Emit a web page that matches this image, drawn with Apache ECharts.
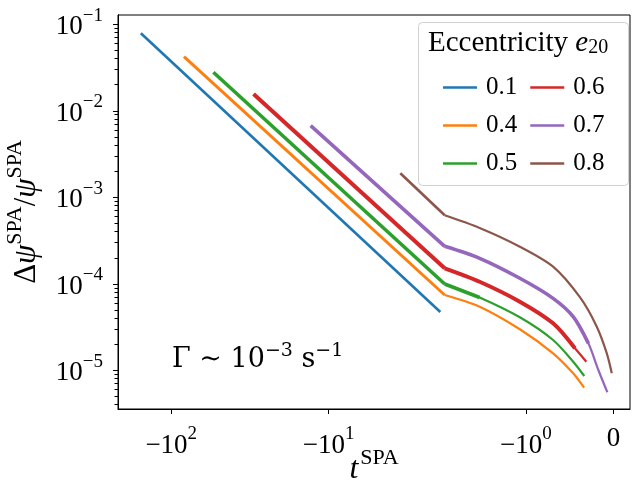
<!DOCTYPE html>
<html>
<head>
<meta charset="utf-8">
<script src="https://cdn.jsdelivr.net/npm/echarts@6/dist/echarts.min.js"></script>
<style>
html, body { margin: 0; padding: 0; background: #fff; }
#main { width: 633px; height: 490px; }
</style>
</head>
<body>
<div id="main"></div>
<script>
// symlog like matplotlib (linthresh 2, linscale 1)
var LT = 2, LS = 1 / (1 - 1 / 10);
function symlog(t) {
	var a = Math.abs(t), s = t < 0 ? -1 : 1;
	return a <= LT ? t * LS : s * LT * (LS + Math.log10(a / LT));
}

var ecc = ['0.1', '0.4', '0.5', '0.6', '0.7', '0.8'];
var colors = ['#1f77b4', '#ff7f0e', '#2ca02c', '#d62728', '#9467bd', '#8c564b'];

// t^SPA values and delta psi / psi per eccentricity
var t01 = [-156, -1.98];
var v01 = [0.0787, 4.72e-5];
var t04 = [-83, -1.93, -1.53, -1.07, -0.69, -0.46, -0.335];
var v04 = [0.0422, 7.42e-5, 5.43e-5, 2.98e-5, 1.57e-5, 9.23e-6, 6.29e-6];
var t05 = [-54, -1.93, -1.53, -1.07, -0.69, -0.46, -0.333];
var v05 = [0.0279, 9.95e-5, 6.95e-5, 4.10e-5, 2.24e-5, 1.257e-5, 8.59e-6];
var t06 = [-30, -1.93, -1.53, -1.07, -0.69, -0.44, -0.31];
var v06 = [0.01564, 1.51e-4, 1.057e-4, 6.21e-5, 3.49e-5, 1.795e-5, 1.257e-5];
var t07 = [-13, -1.93, -1.53, -1.07, -0.69, -0.46, -0.286, -0.172, -0.069];
var v07 = [6.73e-3, 2.71e-4, 1.97e-4, 1.158e-4, 6.79e-5, 4.17e-5, 2.05e-5, 1.008e-5, 5.57e-6];
var t08 = [-3.5, -1.93, -1.53, -1.07, -0.69, -0.381, -0.19, -0.0755, -0.0183];
var v08 = [1.895e-3, 6.19e-4, 4.42e-4, 2.685e-4, 1.578e-4, 6.95e-5, 3.19e-5, 1.57e-5, 9.23e-6];

var tAll = [t01, t04, t05, t06, t07, t08];
var vAll = [v01, v04, v05, v06, v07, v08];

// axes
var xLim = [-218, 0.19];
var yLim = [3.57e-6, 0.128];
var xTicks = [-100, -10, -1, 0];
var xTickLabels = ['{m|−10}{s|2}', '{m|−10}{s|1}', '{m|−10}{s|0}', '{z|0}'];
var yTicks = [1e-5, 1e-4, 1e-3, 1e-2, 1e-1];
var yTickExp = ['−5', '−4', '−3', '−2', '−1'];

// overlapping runs make part of some curves look thicker
var headW = [2.6, 3, 3.6, 4, 3.6, 2.6];
var thickN = [0, 0, 3, 6, 7, 0];
var thickW = [0, 0, 3.6, 4, 3.6, 0];

// minor log ticks (as exponents)
var yMinorExp = [];
for (var e = -6; e <= -1; e++) {
	for (var k = 2; k <= 9; k++) {
		var mv = k * Math.pow(10, e);
		if (mv > yLim[0] && mv < yLim[1]) yMinorExp.push(Math.log10(mv));
	}
}

var xTickPos = xTicks.map(symlog);

var serif = 'Liberation Serif';
var tickRich = {
	b: { fontFamily: serif, fontSize: 27, color: '#000', padding: [6, 0, 0, 0] },
	m: { fontFamily: serif, fontSize: 27, color: '#000', padding: [6, 0, 0, 0] },
	z: { fontFamily: serif, fontSize: 27, color: '#000' },
	s: { fontFamily: serif, fontSize: 19, color: '#000', padding: [0, 0, 17, 0] }
};

var series = [];
for (var i = 0; i < ecc.length; i++) {
	var pts = tAll[i].map(function (t, j) { return [symlog(t), vAll[i][j]]; });
	// straight power-law part
	series.push({
		name: ecc[i], type: 'line', data: pts.slice(0, 2), symbol: 'none', showSymbol: false,
		lineStyle: { width: headW[i], color: colors[i] }, itemStyle: { color: colors[i] }, z: 2 + i
	});
	if (pts.length > 2) {
		series.push({
			name: ecc[i], type: 'line', data: pts.slice(1), symbol: 'none', showSymbol: false,
			smooth: 0.3,
			lineStyle: { width: 2.2, color: colors[i] }, itemStyle: { color: colors[i] }, z: 2 + i
		});
	}
	if (thickN[i] > 0) {
		series.push({
			name: ecc[i], type: 'line', data: pts.slice(1, thickN[i]), symbol: 'none', showSymbol: false,
			smooth: 0.3,
			lineStyle: { width: thickW[i], color: colors[i] }, itemStyle: { color: colors[i] }, z: 2 + i
		});
	}
}

var myChart = echarts.init(document.getElementById('main'));
var option = {
	animation: false,
	backgroundColor: '#fff',
	grid: { left: 118, right: 3, top: 15, bottom: 81, outerBoundsMode: 'none', containLabel: false, show: true, borderColor: '#000', borderWidth: 1, backgroundColor: 'transparent' },
	title: [{
		text: '{a|Eccentricity }{e|e}{u|20}',
		left: 428, top: 29, padding: 0,
		textStyle: {
			fontWeight: 'normal',
			rich: {
				a: { fontFamily: serif, fontSize: 29, fontWeight: 'normal', color: '#000' },
				e: { fontFamily: serif, fontSize: 29, fontStyle: 'italic', fontWeight: 'normal', color: '#000' },
				u: { fontFamily: serif, fontSize: 20, fontWeight: 'normal', color: '#000', padding: [9, 0, 0, 0] }
			}
		}
	}, {
		text: '{n|Γ ∼ 10}{s|−3}{n| s}{s|−1}',
		left: 172, top: 342, padding: 0,
		textStyle: {
			fontWeight: 'normal',
			rich: {
				n: { fontFamily: 'DejaVu Serif', fontSize: 27, fontWeight: 'normal', color: '#000' },
				s: { fontFamily: 'DejaVu Serif', fontSize: 19, fontWeight: 'normal', color: '#000', padding: [0, 0, 16, 0] }
			}
		}
	}],
	legend: {
		data: ['0.1', '0.6', '0.4', '0.7', '0.5', '0.8'],
		orient: 'horizontal', left: 438, top: 70, width: 190,
		icon: 'rect', itemWidth: 34, itemHeight: 2.5, itemGap: 13,
		textStyle: { fontFamily: serif, fontSize: 25, color: '#000', padding: [0, 5, 0, 4] },
		selectedMode: false
	},
	graphic: [{
		type: 'rect', left: 418, top: 22, z: 0,
		shape: { width: 210, height: 163, r: 4 },
		style: { fill: 'rgba(255,255,255,0.8)', stroke: '#d0d0d0', lineWidth: 1 }
	}],
	xAxis: {
		type: 'value', min: symlog(xLim[0]), max: symlog(xLim[1]),
		name: '{i|t}{s|SPA}', nameLocation: 'middle', nameGap: 38, nameMoveOverlap: false,
		nameTextStyle: {
			verticalAlign: 'top',
			rich: {
				i: { fontFamily: serif, fontSize: 32, fontStyle: 'italic', color: '#000', padding: [6, 0, 0, 0] },
				s: { fontFamily: serif, fontSize: 22, color: '#000', padding: [0, 0, 18, 2] }
			}
		},
		axisLine: { show: true, onZero: false, lineStyle: { color: '#000', width: 1 } },
		axisTick: { show: true, length: 5, customValues: xTickPos, lineStyle: { color: '#000', width: 1 } },
		axisLabel: {
			customValues: xTickPos, margin: 16, rich: tickRich,
			formatter: function (val) {
				var best = 0;
				for (var j = 1; j < xTickPos.length; j++) {
					if (Math.abs(xTickPos[j] - val) < Math.abs(xTickPos[best] - val)) best = j;
				}
				return xTickLabels[best];
			}
		},
		splitLine: { show: false }
	},
	yAxis: [{
		type: 'log', min: yLim[0], max: yLim[1],
		name: '{n|Δ}{i|ψ}{s|SPA}{n|/}{i|ψ}{s|SPA}', nameLocation: 'middle', nameRotate: 90, nameGap: 74,
		nameTextStyle: {
			rich: {
				n: { fontFamily: serif, fontSize: 31, color: '#000', padding: [6, 0, 0, 0] },
				i: { fontFamily: serif, fontSize: 31, fontStyle: 'italic', color: '#000', padding: [6, 0, 0, 0] },
				s: { fontFamily: serif, fontSize: 22, color: '#000', padding: [0, 0, 18, 0] }
			}
		},
		axisLine: { show: true, onZero: false, lineStyle: { color: '#000', width: 1 } },
		axisTick: { show: true, length: 5, customValues: yTicks, lineStyle: { color: '#000', width: 1 } },
		axisLabel: {
			customValues: yTicks, margin: 15, rich: tickRich,
			formatter: function (val) {
				var j = Math.round(Math.log10(val)) + 5;
				return '{b|10}{s|' + yTickExp[j] + '}';
			}
		},
		splitLine: { show: false }
	}, {
		// minor ticks only, on an exponent axis matching the log axis
		type: 'value', min: Math.log10(yLim[0]), max: Math.log10(yLim[1]), position: 'left', show: true,
		axisLine: { show: true, onZero: false, lineStyle: { color: '#000', width: 1 } },
		axisTick: { show: true, length: 3.5, customValues: yMinorExp, lineStyle: { color: '#000', width: 1 } },
		axisLabel: { show: true, customValues: yMinorExp, formatter: function () { return ''; } },
		splitLine: { show: false }
	}],
	series: series
};
myChart.setOption(option);
</script>
</body>
</html>
